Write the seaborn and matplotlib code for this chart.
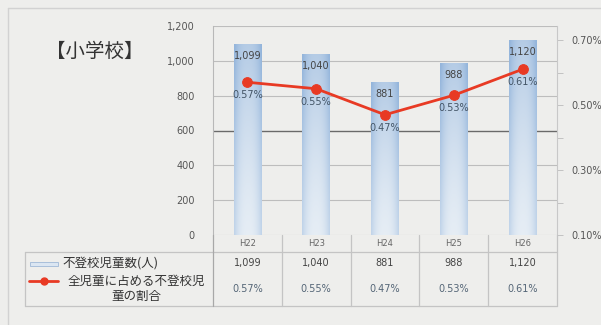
import numpy as np
import pandas as pd
import matplotlib
matplotlib.use("Agg")
import matplotlib.pyplot as plt
import seaborn as sns
from matplotlib.lines import Line2D
from matplotlib.patches import Rectangle

# ---- data ----
years = ["H22", "H23", "H24", "H25", "H26"]
counts = [1099, 1040, 881, 988, 1120]
rates = [0.57, 0.55, 0.47, 0.53, 0.61]
count_labels = ["1,099", "1,040", "881", "988", "1,120"]
rate_labels = ["0.57%", "0.55%", "0.47%", "0.53%", "0.61%"]
title = "【小学校】"
legend_bar = "不登校児童数(人)"
legend_line = "全児童に占める不登校児\n童の割合"

sns.set_theme(style="white")
plt.rcParams["font.family"] = ["Noto Sans CJK JP", "DejaVu Sans"]

W, H = 601, 325
BG = "#eeeeec"
fig = plt.figure(figsize=(W / 100, H / 100), dpi=100, facecolor=BG)

def fx(px):
    return px / W

def fy(py):
    return 1 - py / H

L, R, T, B = 213, 557, 26, 235
ax = fig.add_axes([fx(L), fy(B), fx(R) - fx(L), fy(T) - fy(B)])
ax.set_facecolor(BG)

df = pd.DataFrame({"year": years, "count": counts, "rate": rates})
sns.barplot(data=df, x="year", y="count", ax=ax, color="#c4d7ec", width=0.4,
            saturation=1, edgecolor="none", zorder=3)
ax.set_xlim(-0.5, 4.5)
ax.set_ylim(0, 1200)
ax.set_yticks(range(0, 1201, 200))
ax.set_yticklabels([f"{v:,}" for v in range(0, 1201, 200)], fontsize=7, color="#555555",
                   family="DejaVu Sans")
ax.tick_params(axis="y", length=0, pad=13)
ax.set_xticks([])
ax.set_xlabel("")
ax.set_ylabel("")
for v in range(200, 1201, 200):
    ax.axhline(v, color="#6a6a6a" if v == 600 else "#bdbdbd", lw=1.0 if v == 600 else 0.8, zorder=1)
for s in ["top", "right", "bottom"]:
    ax.spines[s].set_visible(False)
ax.spines["left"].set_color("#b8b8b8")
ax.spines["left"].set_linewidth(0.8)
ax.axhline(0, color="#c0c0c0", lw=0.8, zorder=1)

# gradient shading on bars
light = np.array([0.90, 0.93, 0.96])
dark = np.array([0.58, 0.71, 0.86])
nx, ny = 40, 100
xs = np.linspace(0, 1, nx)
ys = np.linspace(0, 1, ny)
X, Y = np.meshgrid(xs, ys)
edge = np.abs(2 * X - 1) ** 2.5
t = np.clip(0.6 * Y ** 1.3 + 0.45 * edge, 0, 1)
img = light[None, None, :] * (1 - t[..., None]) + dark[None, None, :] * t[..., None]
img = img[::-1]
for p in ax.patches:
    x0, w, h = p.get_x(), p.get_width(), p.get_height()
    im = ax.imshow(img, extent=[x0, x0 + w, 0, h], aspect="auto", zorder=3.5,
                   interpolation="bilinear")
    im.set_clip_path(p)
ax.set_xlim(-0.5, 4.5)
ax.set_ylim(0, 1200)

for i, lab in enumerate(count_labels):
    ax.annotate(lab, (i, counts[i]), xytext=(0, -9), textcoords="offset points",
                ha="center", va="center", fontsize=7, color="#444444", zorder=5,
                family="DejaVu Sans")

# right axis: rate line
ax2 = ax.twinx()
sns.lineplot(data=df, x="year", y="rate", ax=ax2, color="#e83a24", lw=2,
             marker="o", markersize=7, markeredgecolor="#e83a24", zorder=6)
ax2.set_ylim(0.1, 0.1 + 209 / 325)
ax2.set_xlim(-0.5, 4.5)
ticks = [0.1, 0.2, 0.3, 0.4, 0.5, 0.6, 0.7]
ax2.set_yticks(ticks)
ax2.set_yticklabels([f"{v:.2f}%" if round(v * 10) % 2 == 1 else "" for v in ticks],
                    fontsize=7, color="#555555", family="DejaVu Sans")
ax2.tick_params(axis="y", length=4, width=0.6, color="#bbbbbb", pad=6)
ax2.set_ylabel("")
ax2.set_xlabel("")
ax2.set_xticks([])
for s in ["top", "left", "bottom"]:
    ax2.spines[s].set_visible(False)
ax2.spines["right"].set_color("#c8c8c8")
ax2.spines["right"].set_linewidth(0.8)
for i, lab in enumerate(rate_labels):
    ax2.annotate(lab, (i, rates[i]), xytext=(0, -9.5), textcoords="offset points",
                 ha="center", va="center", fontsize=7, color="#445566", zorder=7,
                 family="DejaVu Sans")

# title
fig.text(fx(95), fy(51), title, fontsize=14, color="#333333", ha="center", va="center")

# outer frame (only top and left edges visible in the scan)
fig.add_artist(Line2D([fx(8), fx(601)], [fy(7.5), fy(7.5)], color="#d2d2d2", lw=1))
fig.add_artist(Line2D([fx(8), fx(8)], [fy(7.5), fy(325)], color="#d2d2d2", lw=1))

# data table
LC = "#c4c4c4"
def hline(y, x0, x1, c=LC):
    fig.add_artist(Line2D([fx(x0), fx(x1)], [fy(y), fy(y)], color=c, lw=0.9))

def vline(x, y0, y1, c=LC):
    fig.add_artist(Line2D([fx(x), fx(x)], [fy(y0), fy(y1)], color=c, lw=0.9))

hline(252, 25, 557)
hline(306, 25, 557)
vline(25, 252, 306)
col_w = (R - L) / 5
for k in range(6):
    vline(L + k * col_w, B, 306, c="#a8a8a8" if k == 0 else LC)

for i in range(5):
    cx = L + (i + 0.5) * col_w
    fig.text(fx(cx), fy(244), years[i], fontsize=6, color="#666666", ha="center",
             va="center", family="DejaVu Sans")
    fig.text(fx(cx), fy(263), count_labels[i], fontsize=7, color="#444444", ha="center",
             va="center", family="DejaVu Sans")
    fig.text(fx(cx), fy(289), rate_labels[i], fontsize=7, color="#556677", ha="center",
             va="center", family="DejaVu Sans")

# legend keys in table
fig.add_artist(Rectangle((fx(30), fy(266)), fx(58) - fx(30), fy(262) - fy(266),
                         transform=fig.transFigure, fc="#dbe6f2", ec="#9fb8d6", lw=0.6))
fig.add_artist(Line2D([fx(29), fx(58)], [fy(281), fy(281)], color="#e83a24", lw=2))
fig.add_artist(Line2D([fx(43.5)], [fy(281)], color="#e83a24", marker="o", markersize=5))
fig.text(fx(62), fy(263), legend_bar, fontsize=9, color="#333333", ha="left", va="center")
fig.text(fx(136), fy(289), legend_line, fontsize=9, color="#333333", ha="center",
         va="center", multialignment="center", linespacing=1.25)

fig.savefig("out.png", dpi=100, facecolor=BG)
